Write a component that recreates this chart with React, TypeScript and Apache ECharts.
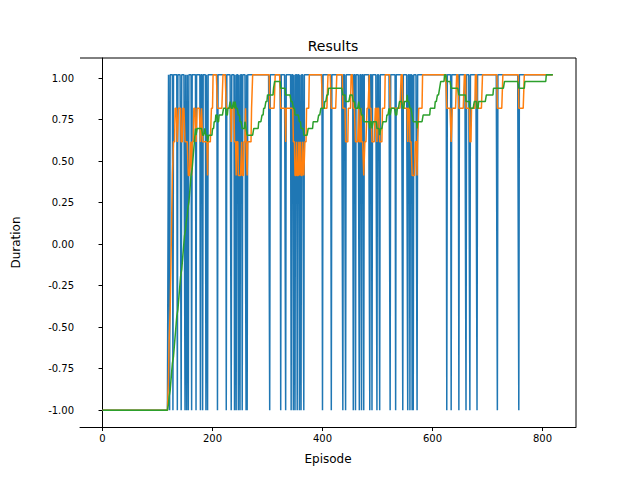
import { useEffect, useRef } from "react";
import * as echarts from "echarts";

const EPISODES = 820;
const START_EPISODE = 120;
const FAIL = -1;
const SUCCESS = 1.02;
// episodes (after start) that ended in failure
const failures = [
  122, 128, 136, 143, 150, 153, 156, 162, 170, 178, 182, 188, 191,
  209, 225, 234, 240, 243, 247, 250, 254, 261, 263, 304, 324, 333, 343, 347, 350, 354, 358, 361,
  366, 400, 416, 437, 442, 456, 460, 467, 471, 475, 486, 490, 499, 504, 523, 533, 546, 555, 559,
  563, 565, 572, 626, 634, 648, 661, 668, 681, 718, 757,
];
const yTicks = [-1, -0.75, -0.5, -0.25, 0, 0.25, 0.5, 0.75, 1];
const xTicks = [0, 200, 400, 600, 800];

const raw: number[] = [];
for (let i = 0; i < EPISODES; i++) {
  raw.push(i < START_EPISODE || failures.includes(i) ? FAIL : SUCCESS);
}
const rolling = (w: number) =>
  raw.map((_, i) => {
    const s = raw.slice(Math.max(0, i - w + 1), i + 1);
    return s.reduce((a, b) => a + b, 0) / s.length;
  });
const avg10 = rolling(10);
const avg50 = rolling(50);

export default function App() {
  const ref = useRef<HTMLDivElement>(null);
  useEffect(() => {
    if (!ref.current) return;
    const chart = echarts.init(ref.current, null, { renderer: "svg" });
    const font = "DejaVu Sans";
    const line = (data: number[], color: string) => ({
      type: "line",
      data: data.map((v, i) => [i, v]),
      showSymbol: false,
      lineStyle: { color, width: 1.5 },
    });
    chart.setOption({
      animation: false,
      textStyle: { fontFamily: font },
      title: {
        text: "Results",
        left: 328,
        top: 34,
        textAlign: "center",
        textStyle: { fontSize: 14, fontWeight: "normal", color: "#000", fontFamily: font },
      },
      grid: { left: 80, right: 64, top: 58, bottom: 53 },
      xAxis: {
        type: "value",
        min: -41,
        max: 861,
        name: "Episode",
        nameLocation: "middle",
        nameGap: 26,
        nameTextStyle: { color: "#000", fontSize: 12 },
        splitLine: { show: false },
        axisLine: { onZero: false, lineStyle: { color: "#000" } },
        axisTick: { customValues: xTicks, length: 4, lineStyle: { color: "#000" } },
        axisLabel: { customValues: xTicks, color: "#000", fontSize: 10, margin: 6 },
      },
      yAxis: {
        type: "value",
        min: -1.101,
        max: 1.121,
        name: "Duration",
        nameLocation: "middle",
        nameGap: 58,
        nameTextStyle: { color: "#000", fontSize: 12 },
        splitLine: { show: false },
        axisLine: { show: true, lineStyle: { color: "#000" } },
        axisTick: { show: true, customValues: yTicks, length: 4, lineStyle: { color: "#000" } },
        axisLabel: {
          customValues: yTicks,
          color: "#000",
          fontSize: 10,
          margin: 6,
          formatter: (v: number) => v.toFixed(2),
        },
      },
      graphic: [
        { type: "line", shape: { x1: 80, y1: 58, x2: 576, y2: 58 }, style: { stroke: "#000" } },
        { type: "line", shape: { x1: 576, y1: 58, x2: 576, y2: 427 }, style: { stroke: "#000" } },
      ],
      series: [line(raw, "#1f77b4"), line(avg10, "#ff7f0e"), line(avg50, "#2ca02c")],
    });
    return () => chart.dispose();
  }, []);
  return (
    <div
      ref={ref}
      style={{ position: "fixed", left: 0, top: 0, width: 640, height: 480, background: "#fff" }}
    />
  );
}
